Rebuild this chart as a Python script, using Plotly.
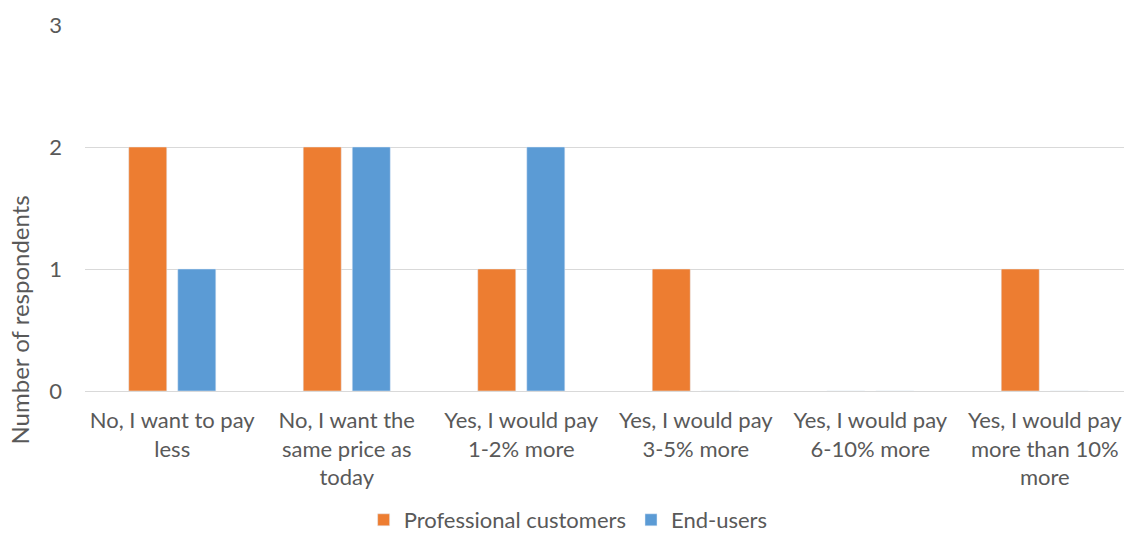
import plotly.graph_objects as go

categories = [
    "No, I want to pay<br>less",
    "No, I want the<br>same price as<br>today",
    "Yes, I would pay<br>1-2% more",
    "Yes, I would pay<br>3-5% more",
    "Yes, I would pay<br>6-10% more",
    "Yes, I would pay<br>more than 10%<br>more",
]
professional = [2, 2, 1, 1, 0, 1]
end_users = [1, 2, 2, 0, 0, 0]
y_ticks = [0, 1, 2, 3]

font_family = "Lato, 'Open Sans', sans-serif"
text_color = "#595959"

fig = go.Figure(
    data=[
        go.Bar(x=categories, y=professional, name="Professional customers",
               marker_color="#ED7D31"),
        go.Bar(x=categories, y=end_users, name="End-users",
               marker_color="#5B9BD5"),
    ],
    layout=go.Layout(
        width=1124,
        height=541,
        margin=dict(l=85, r=0, t=25, b=150),
        paper_bgcolor="white",
        plot_bgcolor="white",
        font=dict(family=font_family, size=22, color=text_color),
        barmode="group",
        bargap=0.438,
        bargroupgap=0.224,
        xaxis=dict(
            range=[-0.5, 5.454],
            showgrid=False,
            showline=False,
            ticks="",
            automargin=False,
            ticklabelstandoff=14,
            tickfont=dict(size=22, color=text_color),
        ),
        yaxis=dict(
            range=[0, 3],
            tickvals=y_ticks,
            showgrid=True,
            gridcolor="#d9d9d9",
            gridwidth=1,
            zeroline=True,
            zerolinecolor="#d9d9d9",
            zerolinewidth=1,
            ticks="",
            automargin=False,
            ticklabelstandoff=22,
            tickfont=dict(size=22, color=text_color),
        ),
        legend=dict(
            orientation="h",
            x=0.465,
            xanchor="center",
            yref="container",
            y=-0.047,
            yanchor="bottom",
            font=dict(size=22, color=text_color),
            itemwidth=30,
        ),
        annotations=[
            dict(
                text="Number of respondents",
                textangle=-90,
                xref="paper", yref="paper",
                x=-0.063, y=0.194,
                xanchor="center", yanchor="middle",
                showarrow=False,
                font=dict(size=24, color=text_color),
            )
        ],
    ),
)

# page has default body margin; drop it so the figure sits at the window corner
fig.write_html(
    "out.html",
    config={"displayModeBar": False},
    post_script="document.body.style.margin='0';",
)
